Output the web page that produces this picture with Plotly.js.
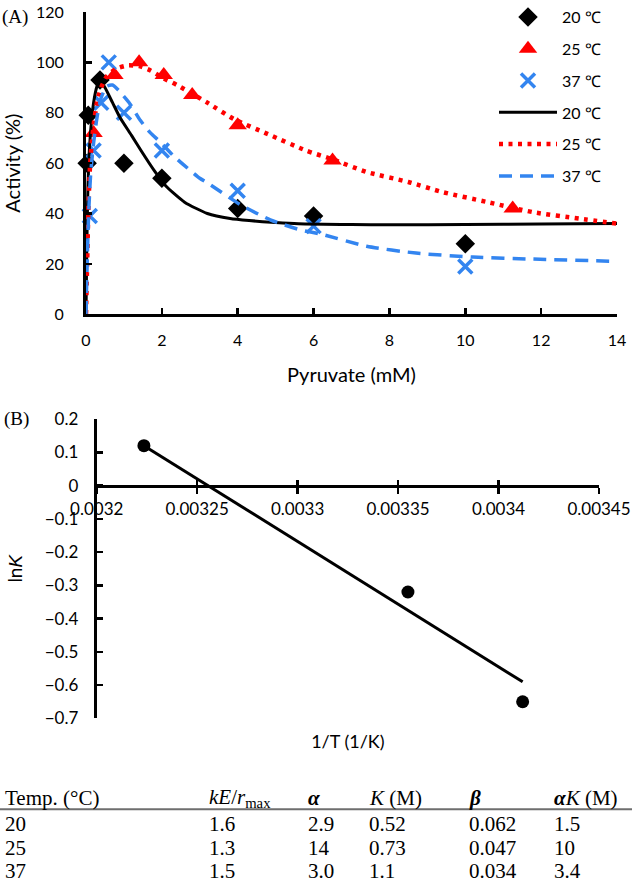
<!DOCTYPE html>
<html>
<head>
<meta charset="utf-8">
<script src="https://cdn.plot.ly/plotly-3.0.1.min.js"></script>
<style>html,body{margin:0;padding:0;background:#fff;}#chart{width:632px;height:883px;}</style>
</head>
<body>
<div id="chart"></div>
<script>
// ---------- Panel A data: Activity (%) vs Pyruvate (mM) ----------
const legendNames = ['20 ℃', '25 ℃', '37 ℃'];

const x20 = [0.03, 0.06, 0.37, 1, 2, 4, 6, 10];
const y20 = [60, 79, 93, 60, 54, 42, 39, 28];

const x25 = [0.2, 0.75, 1.4, 2.05, 2.8, 4, 6.5, 11.25];
const y25 = [72, 95, 100, 95, 87, 75, 61, 42];

const x37 = [0.1, 0.2, 0.4, 0.6, 1, 2, 4, 6, 10];
const y37 = [39, 65, 84, 100, 80, 65, 49, 35, 19];

// fitted curves
const fit20x = [0, 0.02, 0.05, 0.1, 0.2, 0.3, 0.37, 0.5, 0.7, 0.9, 1.2, 1.45, 1.8, 2.1, 2.6, 3.2, 3.8, 4.3, 5.0, 5.6, 7, 8, 10, 12, 14];
const fit20y = [0, 25, 50, 68, 84, 91, 93, 90, 84, 78, 71, 65, 57, 51, 44.5, 40, 38, 37.2, 36.4, 35.9, 35.6, 35.5, 35.6, 35.8, 36];

const fit25x = [0, 0.03, 0.06, 0.1, 0.15, 0.2, 0.3, 0.4, 0.55, 0.8, 1.1, 1.4, 1.7, 2.0, 2.4, 2.8, 3.2, 3.9, 4.8, 5.8, 6.5, 7.4, 8.5, 9.4, 10.6, 11.8, 13, 14];
const fit25y = [0, 20, 40, 57, 68, 75, 85, 90, 94.5, 97.5, 98.8, 98.5, 96.8, 94, 91, 87.5, 84, 77.5, 71.5, 65, 61.5, 56.5, 52.5, 48.5, 44.5, 40.5, 38, 36];

const fit37x = [0, 0.03, 0.07, 0.12, 0.2, 0.3, 0.4, 0.55, 0.7, 0.85, 1.16, 1.43, 1.7, 1.95, 2.3, 2.56, 3.0, 3.27, 4.07, 4.86, 5.65, 6.2, 7.4, 8.7, 10.2, 11.8, 14];
const fit37y = [0, 20, 40, 55, 68, 79, 86, 90.5, 91, 89, 83.5, 77, 72, 68.5, 63, 59.5, 54, 51.5, 43.5, 37.5, 33.5, 31.8, 27, 24.3, 22.7, 21.9, 21];

// ---------- Panel B data: lnK vs 1/T ----------
const invT = [0.0032235, 0.0033549, 0.003412];
const lnK = [0.12, -0.32, -0.65];
const lineInvT = [0.0032235, 0.003412];
const lineLnK = [0.12, -0.59];
const xTicksB = [0.0032, 0.00325, 0.0033, 0.00335, 0.0034, 0.00345];
const xTickTextB = ['0.0032', '0.00325', '0.0033', '0.00335', '0.0034', '0.00345'];
const yTicksB = [0.2, 0.1, 0, -0.1, -0.2, -0.3, -0.4, -0.5, -0.6, -0.7];
const yTickTextB = ['0.2', '0.1', '0', '−0.1', '−0.2', '−0.3', '−0.4', '−0.5', '−0.6', '−0.7'];

// ---------- Table ----------
const tableHeader = ['Temp. (°C)', '<i>kE</i>/<i>r</i><sub>max</sub>', '<b><i>α</i></b>', '<i>K</i> (M)', '<b><i>β</i></b>', '<b><i>α</i></b><i>K</i> (M)'];
const colTemp = ['20', '25', '37'];
const colKE = ['1.6', '1.3', '1.5'];
const colAlpha = ['2.9', '14', '3.0'];
const colK = ['0.52', '0.73', '1.1'];
const colBeta = ['0.062', '0.047', '0.034'];
const colAlphaK = ['1.5', '10', '3.4'];

// ---------- Layout helpers ----------
const W = 632, H = 883;
const px = v => v / W;
const py = v => 1 - v / H;
const BLACK = '#000000', RED = '#ff0000', BLUE = '#3385f0';
const SANS = 'Lato, sans-serif';
const SERIF = 'Liberation Serif, Times New Roman, serif';
const TICKA = {family: SANS, size: 16, color: '#000'};
const TICKB = {family: SANS, size: 17, color: '#000'};

const traces = [
  {x: x20, y: y20, name: legendNames[0], mode: 'markers', type: 'scatter', legendgroup: 'g1',
   marker: {symbol: 'diamond', size: 15, color: BLACK}, cliponaxis: false},
  {x: x25, y: y25, name: legendNames[1], mode: 'markers', type: 'scatter', legendgroup: 'g2',
   marker: {symbol: 'triangle-up', size: 16, color: RED}, cliponaxis: false},
  {x: x37, y: y37, name: legendNames[2], mode: 'markers', type: 'scatter', legendgroup: 'g3',
   marker: {symbol: 'x-thin-open', size: 14, color: BLUE, line: {color: BLUE, width: 3.5}}, cliponaxis: false},
  {x: fit20x, y: fit20y, name: legendNames[0], mode: 'lines', type: 'scatter', legendgroup: 'g4',
   line: {color: BLACK, width: 3, shape: 'spline', smoothing: 0.6}, cliponaxis: false},
  {x: fit25x, y: fit25y, name: legendNames[1], mode: 'lines', type: 'scatter', legendgroup: 'g5',
   line: {color: RED, width: 4.5, dash: '4px,5.5px', shape: 'spline', smoothing: 0.6}, cliponaxis: false},
  {x: fit37x, y: fit37y, name: legendNames[2], mode: 'lines', type: 'scatter', legendgroup: 'g6',
   line: {color: BLUE, width: 3.5, dash: '13px,8px', shape: 'spline', smoothing: 0.6}, cliponaxis: false},
  {x: invT, y: lnK, mode: 'markers', type: 'scatter', xaxis: 'x2', yaxis: 'y2', showlegend: false,
   marker: {symbol: 'circle', size: 13, color: BLACK}, cliponaxis: false},
  {x: lineInvT, y: lineLnK, mode: 'lines', type: 'scatter', xaxis: 'x3', yaxis: 'y2', showlegend: false,
   line: {color: BLACK, width: 3}, cliponaxis: false}
];

const yRangeB = [-0.7, 0.2];
const yDomB = [py(718), py(418)];
const zeroPos = yDomB[0] + (0 - yRangeB[0]) / (yRangeB[1] - yRangeB[0]) * (yDomB[1] - yDomB[0]);

const annotations = [
  {text: '(A)', x: px(0), y: py(15), xref: 'paper', yref: 'paper', xanchor: 'left', yanchor: 'middle', showarrow: false,
   font: {family: SERIF, size: 19, color: '#000'}},
  {text: '(B)', x: px(2), y: py(418), xref: 'paper', yref: 'paper', xanchor: 'left', yanchor: 'middle', showarrow: false,
   font: {family: SERIF, size: 19, color: '#000'}}
];
const colX = [3, 207, 306, 367, 467, 552];
const rowY = [824, 848, 871];
tableHeader.forEach((t, i) => annotations.push({text: t, x: px(colX[i]), y: py(798), xref: 'paper', yref: 'paper',
  xanchor: 'left', yanchor: 'middle', showarrow: false, font: {family: SERIF, size: 21, color: '#000'}}));
[colTemp, colKE, colAlpha, colK, colBeta, colAlphaK].forEach((col, ci) => {
  col.forEach((v, ri) => annotations.push({text: v, x: px(colX[ci]), y: py(rowY[ri]), xref: 'paper', yref: 'paper',
    xanchor: 'left', yanchor: 'middle', showarrow: false, font: {family: SERIF, size: 21, color: '#000'}}));
});

const layout = {
  width: W, height: H,
  margin: {l: 0, r: 0, t: 0, b: 0},
  paper_bgcolor: '#fff', plot_bgcolor: 'rgba(0,0,0,0)',
  font: {family: SANS, size: 16, color: '#000'},
  showlegend: true,
  legend: {x: px(494), y: py(-2), xanchor: 'left', yanchor: 'top', bgcolor: 'rgba(0,0,0,0)',
           traceorder: 'grouped', tracegroupgap: 8, itemwidth: 58,
           font: {family: SANS, size: 16, color: '#000'}},
  xaxis: {domain: [px(86), px(617)], range: [0, 14], anchor: 'y', tick0: 0, dtick: 2,
          ticks: 'inside', ticklen: 6, tickwidth: 2.5, tickcolor: '#000', ticklabeloverflow: 'allow',
          showline: true, linewidth: 3, linecolor: '#000', showgrid: false, zeroline: false,
          tickfont: TICKA, ticklabelstandoff: 10,
          title: {text: 'Pyruvate (mM)', font: {family: SANS, size: 20}, standoff: 20}},
  yaxis: {domain: [py(313), py(10)], range: [0, 120], anchor: 'x', tick0: 0, dtick: 20,
          ticks: 'inside', ticklen: 6, tickwidth: 2.5, tickcolor: '#000', ticklabeloverflow: 'allow',
          showline: true, linewidth: 3, linecolor: '#000', showgrid: false, zeroline: false,
          tickfont: TICKA, ticklabelstandoff: 16,
          title: {text: 'Activity (%)', font: {family: SANS, size: 20}, standoff: 12}},
  xaxis2: {domain: [px(96.7), px(599)], range: [xTicksB[0], xTicksB[xTicksB.length - 1]],
           anchor: 'free', position: zeroPos, tickmode: 'array', tickvals: xTicksB, ticktext: xTickTextB,
           ticks: 'outside', ticklen: 6, tickwidth: 2.5, tickcolor: '#000', ticklabeloverflow: 'allow',
           showline: true, linewidth: 3, linecolor: '#000', showgrid: false, zeroline: false,
           tickfont: TICKB, ticklabelstandoff: 1,
           title: {text: '1/T (1/K)', font: {family: SANS, size: 18}, standoff: 217}},
  xaxis3: {domain: [px(96.7), px(599)], range: [xTicksB[0], xTicksB[xTicksB.length - 1]],
           anchor: 'free', position: zeroPos, overlaying: 'x2', tickmode: 'array', tickvals: xTicksB,
           ticks: 'inside', ticklen: 6, tickwidth: 2.5, tickcolor: '#000', showticklabels: false,
           showline: false, showgrid: false, zeroline: false},
  yaxis2: {domain: yDomB, range: yRangeB, anchor: 'x2', tickmode: 'array', tickvals: yTicksB, ticktext: yTickTextB,
           ticks: 'inside', ticklen: 6, tickwidth: 2.5, tickcolor: '#000', ticklabeloverflow: 'allow',
           showline: true, linewidth: 3, linecolor: '#000', showgrid: false, zeroline: false,
           tickfont: TICKB, ticklabelstandoff: 12,
           title: {text: 'ln<span style="font-family:Liberation Sans;font-style:italic">K</span>', font: {family: SANS, size: 19}, standoff: 18}},
  annotations: annotations,
  shapes: [
    {type: 'line', xref: 'paper', yref: 'paper', x0: 0, x1: 1, y0: py(809), y1: py(809),
     line: {color: '#6e6e6e', width: 2}}
  ]
};

Plotly.newPlot('chart', traces, layout, {staticPlot: true, displayModeBar: false});
</script>
</body>
</html>
